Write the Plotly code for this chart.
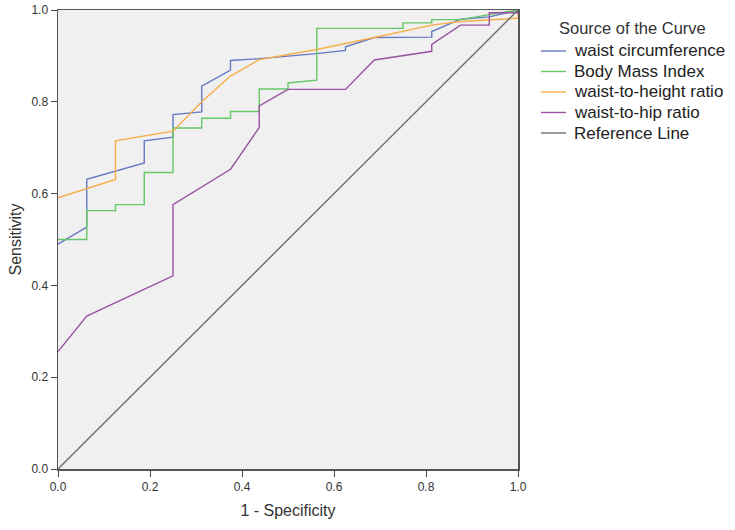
import plotly.graph_objects as go

# ---- data ----
wc_x = [0, 0.0625, 0.0625, 0.1875, 0.1875, 0.25, 0.25, 0.3125, 0.3125, 0.375, 0.375,
        0.4375, 0.5625, 0.625, 0.625, 0.6875, 0.8125, 0.8125, 0.875, 0.9375, 1.0]
wc_y = [0.490, 0.527, 0.631, 0.667, 0.715, 0.723, 0.772, 0.778, 0.834, 0.869, 0.890,
        0.894, 0.905, 0.912, 0.920, 0.940, 0.941, 0.953, 0.980, 0.985, 1.0]

bmi_x = [0, 0.0625, 0.0625, 0.125, 0.125, 0.1875, 0.1875, 0.25, 0.25, 0.3125, 0.3125,
         0.375, 0.375, 0.4375, 0.4375, 0.5, 0.5, 0.5625, 0.5625, 0.75, 0.75, 0.8125,
         0.8125, 0.875, 0.9375, 1.0]
bmi_y = [0.500, 0.500, 0.563, 0.563, 0.576, 0.576, 0.646, 0.646, 0.743, 0.743, 0.764,
         0.764, 0.779, 0.779, 0.828, 0.828, 0.841, 0.847, 0.960, 0.960, 0.972, 0.972,
         0.979, 0.979, 0.990, 1.0]

whtr_x = [0, 0.125, 0.125, 0.25, 0.3125, 0.375, 0.4375, 0.5625, 0.6875, 0.8125, 0.875, 1.0, 1.0]
whtr_y = [0.591, 0.631, 0.715, 0.736, 0.800, 0.856, 0.892, 0.914, 0.940, 0.967, 0.975, 0.982, 1.0]

whr_x = [0, 0.0625, 0.25, 0.25, 0.375, 0.4375, 0.4375, 0.5, 0.625, 0.6875, 0.8125, 0.8125,
         0.875, 0.9375, 0.9375, 1.0, 1.0]
whr_y = [0.256, 0.333, 0.421, 0.576, 0.653, 0.744, 0.791, 0.827, 0.827, 0.891, 0.910, 0.925,
         0.967, 0.967, 0.994, 0.994, 1.0]

ref_x = [0, 1]
ref_y = [0, 1]

names = ["waist circumference", "Body Mass Index", "waist-to-height ratio",
         "waist-to-hip ratio", "Reference Line"]
colors = ["#6479c2", "#66c766", "#f7ad4a", "#9a52a3", "#6e6e6e"]
tick_vals = [0, 0.2, 0.4, 0.6, 0.8, 1.0]
tick_text = ["0.0", "0.2", "0.4", "0.6", "0.8", "1.0"]
legend_title = "Source of the Curve"

series = [(wc_x, wc_y), (bmi_x, bmi_y), (whtr_x, whtr_y), (whr_x, whr_y), (ref_x, ref_y)]

W, H = 735, 530
L, R, T, B = 58, 217, 10, 61
PW, PH = W - L - R, H - T - B


def px_to_paper(px, py):
    """page-pixel position -> paper coordinates"""
    return (px - L) / PW, (H - B - py) / PH


fig = go.Figure()
for (xs, ys), nm, col in zip(series, names, colors):
    fig.add_trace(go.Scatter(x=xs, y=ys, mode="lines", name=nm, showlegend=False,
                             line=dict(color=col, width=1.4)))

font = "Liberation Sans, Arial, sans-serif"

# legend drawn as shapes + text so that its spacing matches the original
shapes = []
annotations = []
tx, ty = px_to_paper(632, 28)
annotations.append(dict(x=tx, y=ty, xref="paper", yref="paper", text=legend_title,
                        showarrow=False, xanchor="center", yanchor="middle",
                        font=dict(family=font, size=16.5, color="#333")))
for i, (nm, col) in enumerate(zip(names, colors)):
    cy = 51 + i * 20.5
    x0, y0 = px_to_paper(541, cy)
    x1, _ = px_to_paper(566, cy)
    shapes.append(dict(type="line", xref="paper", yref="paper", x0=x0, x1=x1, y0=y0, y1=y0,
                       line=dict(color=col, width=1.4)))
    lx, _ = px_to_paper(572, cy)
    annotations.append(dict(x=lx, y=y0, xref="paper", yref="paper", text=nm,
                            showarrow=False, xanchor="left", yanchor="middle",
                            font=dict(family=font, size=17, color="#222")))

axis_common = dict(range=[0, 1], tickvals=tick_vals, ticktext=tick_text,
                   ticks="outside", ticklen=6, tickcolor="#444", tickwidth=1,
                   showgrid=False, zeroline=False, showline=True, linecolor="#555",
                   linewidth=1.5, mirror=True, automargin=False,
                   tickfont=dict(family=font, size=12, color="#333"))

fig.update_layout(
    width=W, height=H,
    margin=dict(l=L, r=R, t=T, b=B),
    paper_bgcolor="white", plot_bgcolor="#f0f0f0",
    font=dict(family=font, color="#333"),
    xaxis=dict(title=dict(text="1 - Specificity", font=dict(family=font, size=16, color="#333"),
                          standoff=12), **axis_common),
    yaxis=dict(title=dict(text="Sensitivity", font=dict(family=font, size=16, color="#333"),
                          standoff=6), **axis_common),
    shapes=shapes,
    annotations=annotations,
    showlegend=False,
)

# remove the default 8px page margin so the 735x530 figure fills the window exactly
fig.write_html("out.html",
               config={"displayModeBar": False, "staticPlot": True},
               post_script="document.body.style.margin='0';document.body.style.overflow='hidden';")
